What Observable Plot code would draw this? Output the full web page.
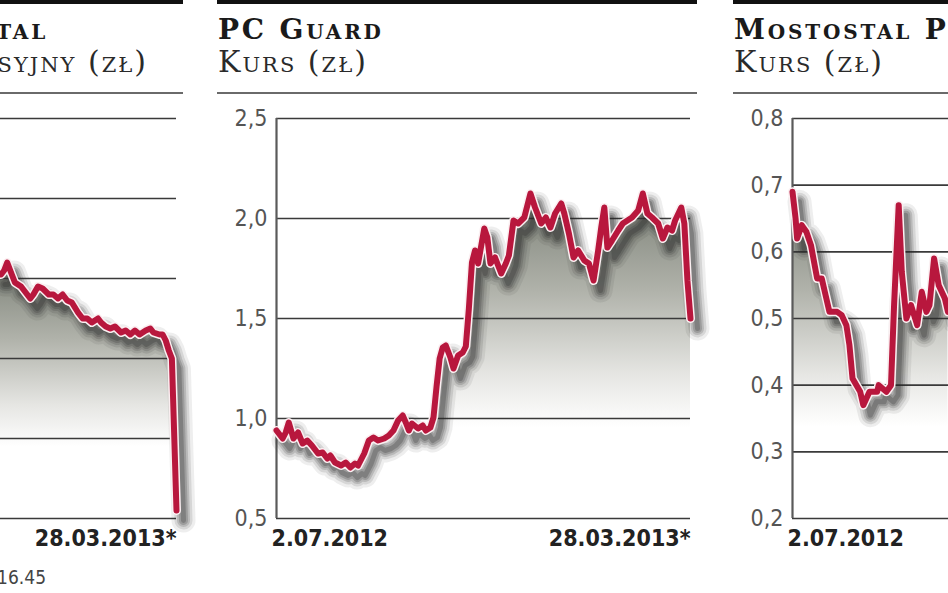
<!DOCTYPE html>
<html>
<head>
<meta charset="utf-8">
<script src="https://cdn.jsdelivr.net/npm/d3@7"></script>
<script src="https://cdn.jsdelivr.net/npm/@observablehq/plot@0.6"></script>
<style>
  html, body { margin: 0; padding: 0; background: #fff; }
  #root { position: relative; width: 948px; height: 593px; overflow: hidden; background: #fff; }
  .bar { position: absolute; top: 0; height: 4px; background: #111; }
  .rule { position: absolute; top: 92px; height: 2px; background: #6a6a6a; }
  .title { position: absolute; top: 16px; font-family: "DejaVu Serif", serif; font-weight: bold; font-size: 28px; letter-spacing: 2.8px; line-height: 28px; font-variant: small-caps; color: #1a1a1a; white-space: nowrap; }
  .subtitle { position: absolute; top: 48px; font-family: "DejaVu Serif", serif; font-weight: normal; font-size: 30px; letter-spacing: 2px; line-height: 28px; font-variant: small-caps; color: #2a2a2a; white-space: nowrap; }
  .chart { position: absolute; top: 100px; width: 480px; height: 460px; }
  .chart svg { max-width: none !important; }
  .foot { position: absolute; top: 566px; font-family: "DejaVu Sans Condensed", "DejaVu Sans", sans-serif; font-stretch: condensed; font-size: 19px; color: #444; white-space: nowrap; }
</style>
</head>
<body>
<div id="root"></div>
<script>
// ---- data (days since 2.07.2012, price in zł) ----
const START = new Date(Date.UTC(2012, 6, 2));
const END = new Date(Date.UTC(2013, 2, 28));
const xTickLabels = ["2.07.2012", "28.03.2013*"];

const polimexDays = [153,155,157,159,162,164,168,171,174,176,179,182,186,189,192,195,198,201,205,208,211,214,218,220,223,226,229,233,236,239,242,245,249,252,254,258,260,262,264,266,269];
const polimexKurs = [0.61,0.61,0.62,0.64,0.61,0.59,0.58,0.565,0.55,0.56,0.58,0.575,0.56,0.56,0.55,0.56,0.545,0.54,0.515,0.50,0.50,0.49,0.50,0.49,0.48,0.475,0.48,0.465,0.47,0.46,0.47,0.46,0.47,0.475,0.465,0.46,0.46,0.445,0.42,0.40,0.02];
const polimexTicks = [0, 0.2, 0.4, 0.6, 0.8, 1.0];

const pcGuardDays = [0,4,6,8,11,14,17,20,23,27,30,33,35,38,42,45,48,51,53,57,60,63,66,70,73,76,79,82,84,86,88,92,95,97,100,102,104,106,108,110,113,115,118,121,123,125,127,129,131,135,137,139,142,146,149,151,154,157,161,165,168,172,175,178,181,185,187,190,193,196,200,203,206,209,211,213,215,218,222,225,228,231,235,238,241,244,248,251,254,257,259,263,265,267,269];
const pcGuardKurs = [0.94,0.90,0.93,0.98,0.90,0.93,0.875,0.89,0.865,0.825,0.83,0.80,0.815,0.78,0.765,0.78,0.755,0.775,0.765,0.825,0.89,0.905,0.89,0.90,0.915,0.94,0.99,1.015,0.98,0.94,0.975,0.95,0.965,0.94,0.955,1.005,1.16,1.30,1.355,1.365,1.305,1.25,1.315,1.33,1.36,1.55,1.78,1.84,1.775,1.95,1.905,1.775,1.805,1.725,1.775,1.815,1.99,1.975,2.005,2.125,2.055,1.975,2.005,1.955,2.025,2.075,2.025,1.925,1.805,1.84,1.79,1.775,1.69,1.84,1.955,2.055,1.855,1.89,1.94,1.975,1.99,2.005,2.04,2.125,2.025,2.005,1.975,1.90,1.955,1.94,1.99,2.055,1.975,1.69,1.50];
const pcGuardTicks = [0.5, 1.0, 1.5, 2.0, 2.5];

const mostostalDays = [0,2,3,6,9,12,16,19,21,24,29,32,35,37,39,44,46,50,55,56,61,64,66,69,71,74,77,81,84,87,89,92,95,99,101];
const mostostalKurs = [0.69,0.65,0.62,0.64,0.63,0.61,0.56,0.56,0.54,0.51,0.51,0.505,0.49,0.46,0.41,0.39,0.37,0.39,0.39,0.40,0.39,0.40,0.52,0.67,0.57,0.50,0.52,0.49,0.54,0.51,0.52,0.59,0.55,0.53,0.51];
const mostostalTicks = [0.2, 0.3, 0.4, 0.5, 0.6, 0.7, 0.8];

const titles = ["Polimex-Mostostal", "PC Guard", "Mostostal Płock"];
const subtitles = ["Kurs emisyjny (zł)", "Kurs (zł)", "Kurs (zł)"];
const footnote = "*kurs z godz. 16.45";

// ---- layout ----
const root = document.getElementById("root");
const PANEL_W = 480;
const fmt = d => d.toFixed(1).replace(".", ",");
const rowsOf = (days, vals) => days.map((d, i) => ({date: d3.utcDay.offset(START, d), value: vals[i]}));

function el(cls, style, text) {
  const d = document.createElement("div");
  d.className = cls;
  Object.assign(d.style, style);
  if (text != null) d.textContent = text;
  root.appendChild(d);
  return d;
}

// soft drop shadow built from stacked translucent strokes
const shadowLayers = [[24, 0.08], [18, 0.12], [13, 0.16], [9, 0.2], [5, 0.25]];

function panel({id, left, title, subtitle, titleRight, subtitleRight, rows, ticks}) {
  el("bar", {left: left + "px", width: PANEL_W + "px"});
  el("rule", {left: left + "px", width: PANEL_W + "px"});
  if (titleRight != null) {
    el("title", {right: (948 - titleRight) + "px"}, title);
    el("subtitle", {right: (948 - subtitleRight) + "px"}, subtitle);
  } else {
    el("title", {left: (left + 1) + "px"}, title);
    el("subtitle", {left: (left + 1) + "px"}, subtitle);
  }
  const lo = ticks[0], hi = ticks[ticks.length - 1];
  const shadows = shadowLayers.map(([w, o]) =>
    Plot.lineY(rows, {x: "date", y: "value", stroke: "#262626", strokeWidth: w, strokeOpacity: o, dx: 7, dy: 10, strokeLinejoin: "round", strokeLinecap: "round"}));
  const svg = Plot.plot({
    width: PANEL_W,
    height: 460,
    marginLeft: 59,
    marginRight: 7,
    marginTop: 18,
    marginBottom: 42,
    style: {fontFamily: '"DejaVu Sans Condensed", "DejaVu Sans", sans-serif', fontStretch: "condensed", background: "transparent", overflow: "visible", maxWidth: "none"},
    x: {type: "utc", domain: [START, END]},
    y: {domain: [lo, hi]},
    marks: [
      Plot.areaY(rows, {x: "date", y1: lo, y2: "value", fill: `url(#grad-${id})`, curve: "linear"}),
      Plot.ruleY(ticks, {stroke: "#3a3a3a", strokeWidth: 1.6}),
      Plot.ruleX([START], {y1: lo, y2: hi, stroke: "#5a5a5a", strokeWidth: 2.2}),
      ...shadows,
      Plot.lineY(rows, {x: "date", y: "value", stroke: "#fbeff1", strokeWidth: 9, strokeLinejoin: "round", strokeLinecap: "round"}),
      Plot.lineY(rows, {x: "date", y: "value", stroke: "#b8173d", strokeWidth: 6, strokeLinejoin: "round", strokeLinecap: "round"}),
      Plot.axisY(ticks, {tickSize: 0, tickPadding: 9, tickFormat: fmt, fontSize: 23, fill: "#555", label: null}),
      Plot.axisX([START], {tickSize: 0, tickPadding: 11, tickFormat: () => xTickLabels[0], textAnchor: "start", dx: -5, fontSize: 23, fontWeight: "bold", fill: "#222", label: null}),
      Plot.axisX([END], {tickSize: 0, tickPadding: 11, tickFormat: () => xTickLabels[1], textAnchor: "end", dx: 0, fontSize: 23, fontWeight: "bold", fill: "#222", label: null})
    ]
  });
  const s = d3.select(svg);
  const defs = s.insert("defs", ":first-child");
  const g = defs.append("linearGradient").attr("id", `grad-${id}`).attr("x1", 0).attr("y1", 0).attr("x2", 0).attr("y2", 1);
  g.append("stop").attr("offset", "0%").attr("stop-color", "#7c8177");
  g.append("stop").attr("offset", "30%").attr("stop-color", "#b0b2aa");
  g.append("stop").attr("offset", "56%").attr("stop-color", "#e6e6e3");
  g.append("stop").attr("offset", "72%").attr("stop-color", "#ffffff");
  g.append("stop").attr("offset", "100%").attr("stop-color", "#ffffff");
  const holder = el("chart", {left: left + "px"});
  holder.appendChild(svg);
}

panel({id: "a", left: -297, title: titles[0], subtitle: subtitles[0], titleRight: 48, subtitleRight: 148,
  rows: rowsOf(polimexDays, polimexKurs), ticks: polimexTicks});
panel({id: "b", left: 217, title: titles[1], subtitle: subtitles[1],
  rows: rowsOf(pcGuardDays, pcGuardKurs), ticks: pcGuardTicks});
panel({id: "c", left: 733, title: titles[2], subtitle: subtitles[2],
  rows: rowsOf(mostostalDays, mostostalKurs), ticks: mostostalTicks});

el("foot", {right: (948 - 46) + "px"}, footnote);
</script>
</body>
</html>
